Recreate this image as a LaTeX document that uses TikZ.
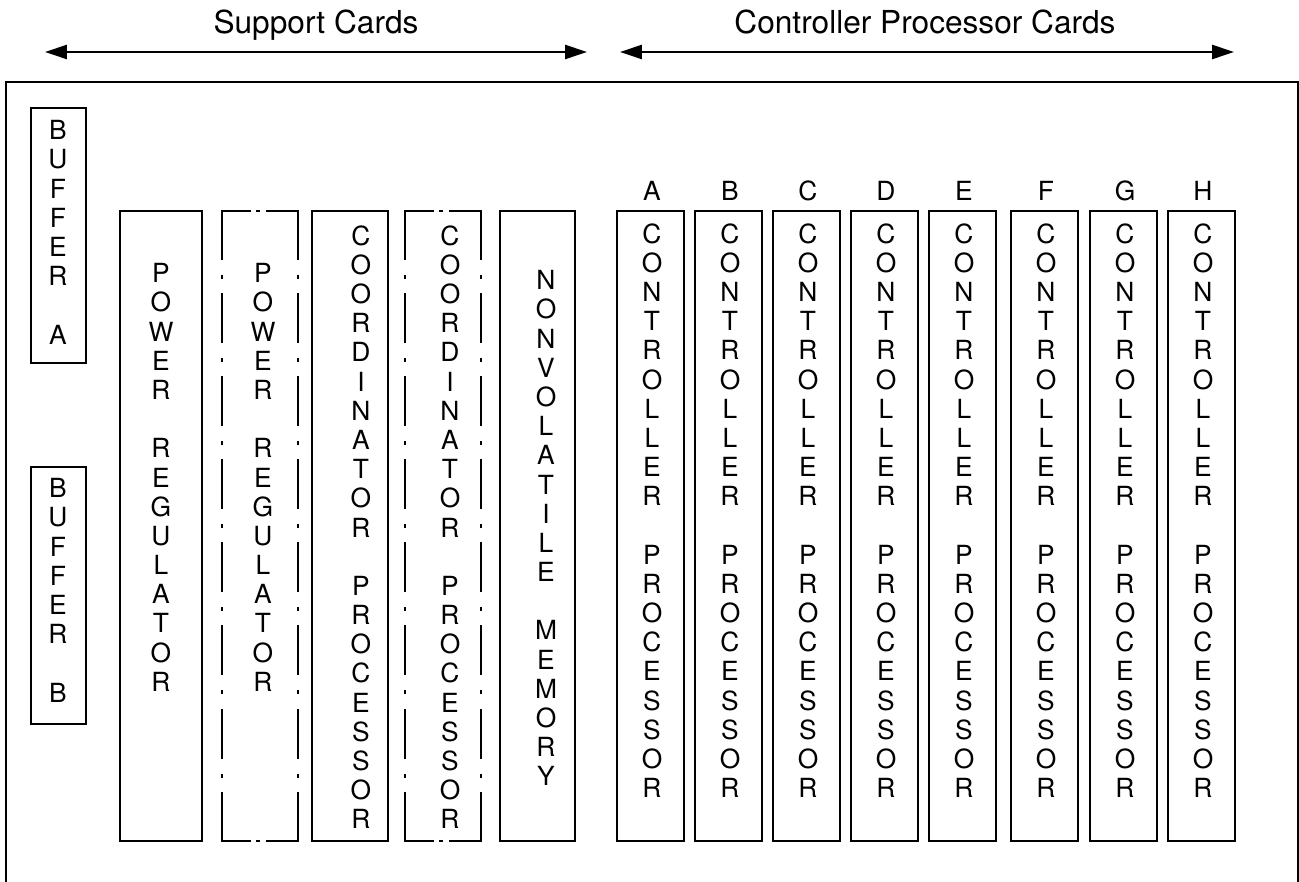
\documentclass[tikz,border=0pt]{standalone}
\usepackage{fontspec}
\setmainfont{TeX Gyre Heros}
\usetikzlibrary{arrows.meta}

\newcommand{\pxl}{0.2mm}
\newcommand{\rowgap}{\\[16.6pt]}
\newcommand{\ctrltext}{C\\O\\N\\T\\R\\O\\L\\L\\E\\R\rowgap P\\R\\O\\C\\E\\S\\S\\O\\R}

\begin{document}
\begin{tikzpicture}[
	x=\pxl, y=-\pxl,
	every node/.style={inner sep=0pt, outer sep=0pt},
	heading/.style={font=\fontsize{18}{21}\selectfont, anchor=base},
	tag/.style={font=\fontsize{15}{16.6}\selectfont, anchor=base},
	letters/.style={font=\fontsize{15}{16.6}\selectfont, align=center, anchor=north},
	plainbox/.style={minimum height=630*\pxl, anchor=north west},
	cardbox/.style={plainbox, draw, line width=1.4pt},
	bufbox/.style={draw, line width=1.4pt, minimum width=55*\pxl, anchor=north west},
	sidedash/.style={line width=1.4pt, line cap=rect, dash pattern=on 27.1pt off 9.9pt on 0.9pt off 9.4pt},
	enddash/.style={line width=1.4pt, line cap=rect, dash pattern=on 15.6pt off 4.5pt on 0.9pt off 4.5pt on 60pt},
	span/.style={line width=1.3pt, {Triangle[length=12.5pt,width=8pt]}-{Triangle[length=12.5pt,width=8pt]}}
	]
	\useasboundingbox (0,0) rectangle (1299,882);

	% headings and their arrows
	\node[heading] (support) at (316,34) {Support Cards};
	\node[heading] (ctrlhead) at (925,34) {Controller Processor Cards};
	\coordinate (supl) at (45,52);
	\coordinate (supr) at (587,52);
	\coordinate (ctrl) at (620,52);
	\coordinate (ctrr) at (1234,52);
	\draw[span] (supl) -- (supr);
	\draw[span] (ctrl) -- (ctrr);

	% cabinet outline, open at the bottom
	\draw[line width=1.6pt] (6,890) -- (6,82) -- (1298,82) -- (1298,890);

	% buffers
	\node[bufbox, minimum height=255*\pxl] (bufa) at (31,108) {};
	\node[letters] (bufatext) at (58,120.6) {B\\U\\F\\F\\E\\R\rowgap A};
	\node[bufbox, minimum height=257*\pxl] (bufb) at (31,467) {};
	\node[letters] (bufbtext) at (58,478.6) {B\\U\\F\\F\\E\\R\rowgap B};

	% support cards
	\node[cardbox, minimum width=82*\pxl] (pwr) at (120,211) {};
	\node[letters] (pwrtext) at (161,263.6) {P\\O\\W\\E\\R\rowgap R\\E\\G\\U\\L\\A\\T\\O\\R};

	\node[plainbox, minimum width=76*\pxl] (pwrb) at (222,211) {};
	\draw[sidedash] (pwrb.north west) -- (pwrb.south west);
	\draw[sidedash] (pwrb.north east) -- (pwrb.south east);
	\draw[enddash] (pwrb.north west) -- (pwrb.north east);
	\draw[enddash] (pwrb.south west) -- (pwrb.south east);
	\node[letters] (pwrbtext) at (263,263.6) {P\\O\\W\\E\\R\rowgap R\\E\\G\\U\\L\\A\\T\\O\\R};

	\node[cardbox, minimum width=76*\pxl] (coord) at (312,211) {};
	\node[letters] (coordtext) at (361,225.6) {C\\O\\O\\R\\D\\I\\N\\A\\T\\O\\R\rowgap P\\R\\O\\C\\E\\S\\S\\O\\R};

	\node[plainbox, minimum width=76*\pxl] (coordb) at (405,211) {};
	\draw[sidedash] (coordb.north west) -- (coordb.south west);
	\draw[sidedash] (coordb.north east) -- (coordb.south east);
	\draw[enddash] (coordb.north west) -- (coordb.north east);
	\draw[enddash] (coordb.south west) -- (coordb.south east);
	\node[letters] (coordbtext) at (450,225.6) {C\\O\\O\\R\\D\\I\\N\\A\\T\\O\\R\rowgap P\\R\\O\\C\\E\\S\\S\\O\\R};

	\node[cardbox, minimum width=75*\pxl] (nvm) at (500,211) {};
	\node[letters] (nvmtext) at (546,270.6) {N\\O\\N\\V\\O\\L\\A\\T\\I\\L\\E\rowgap M\\E\\M\\O\\R\\Y};

	% controller processor cards A..H
	\foreach \name/\xl in {A/617,B/695,C/773,D/851,E/929,F/1011,G/1090,H/1168} {
		\node[cardbox, minimum width=67*\pxl] (card\name) at (\xl,211) {};
		\node[letters] (card\name text) at (\xl+35,223.6) {\ctrltext};
		\node[tag] (card\name tag) at (\xl+35,201) {\name};
	}
\end{tikzpicture}
\end{document}
